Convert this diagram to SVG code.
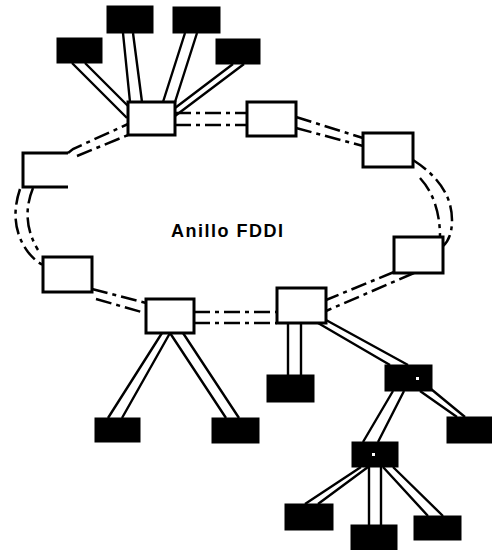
<svg xmlns="http://www.w3.org/2000/svg" width="492" height="550" viewBox="0 0 492 550">
<style>
.hub{fill:#fff;stroke:#000;stroke-width:3}
.st{fill:#000;stroke:#000;stroke-width:1}
.dot{fill:#fff}
.ring{fill:none;stroke:#000;stroke-width:2.5;stroke-dasharray:16 5 4 5}
.cab{fill:none;stroke:#000;stroke-width:2.4}
.lbl{font-family:"Liberation Sans",Arial,sans-serif;font-weight:bold;font-size:18px;fill:#000}
</style>
<rect width="492" height="550" fill="#fff"/>
<g id="connectors">
  <path class="ring" d="M175,113 H247 M175,125 H247"/>
  <path class="ring" d="M296,117 L363,138 M296,128 L363,146"/>
  <path class="ring" d="M413,160 Q452,185 452,220 Q452,238 443,246 M420,178 Q440,200 440,237"/>
  <path class="ring" d="M394,272 L326,300 M414,273 L326,311"/>
  <path class="ring" d="M194,312 H277 M194,323 H277"/>
  <path class="ring" d="M92,289 L146,303 M96,299 L145,313"/>
  <path class="ring" d="M20,189 Q8,225 28,252 Q36,262 43,265 M33,188 Q20,220 38,250"/>
  <path class="ring" d="M68,153 L73,149 L128,124 M77,156 L128,135"/>
  <path class="cab" d="M72,63 L127,118 M85,63 L130,108"/>
  <path class="cab" d="M123,33 L130,102 M133,33 L142,102"/>
  <path class="cab" d="M185,33 L163,102 M197,33 L175,102"/>
  <path class="cab" d="M233,64 L175,108 M244,64 L175,116"/>
  <path class="cab" d="M162,333 L108,418 M170,333 L122,418"/>
  <path class="cab" d="M170,333 L226,418 M183,333 L239,418"/>
  <path class="cab" d="M288,322 V375 M301,322 V375"/>
  <path class="cab" d="M318,323 L390,365 M326,320 L408,365"/>
  <path class="cab" d="M420,391 L457,417 M431,389 L465,417"/>
  <path class="cab" d="M393,391 L363,442 M404,391 L378,442"/>
  <path class="cab" d="M361,467 L305,504 M368,467 L318,504"/>
  <path class="cab" d="M369,467 V525 M381,467 V525"/>
  <path class="cab" d="M383,467 L428,516 M393,467 L443,516"/>
</g>
<g id="label"><text class="lbl" x="171" y="237" textLength="112" lengthAdjust="spacing">Anillo FDDI</text></g>
<g id="hub-top"><rect class="hub" x="128" y="102" width="47" height="33"/></g>
<g id="hub-2"><rect class="hub" x="247" y="102" width="49" height="34"/></g>
<g id="hub-3"><rect class="hub" x="363" y="133" width="50" height="34"/></g>
<g id="hub-4"><rect class="hub" x="394" y="237" width="49" height="36"/></g>
<g id="hub-bottom-right"><rect class="hub" x="277" y="288" width="49" height="35"/></g>
<g id="hub-bottom"><rect class="hub" x="146" y="299" width="48" height="34"/></g>
<g id="hub-left-low"><rect class="hub" x="43" y="257" width="49" height="35"/></g>
<g id="hub-left-open"><path class="hub" d="M68,153 H23 V187 H68" style="fill:none"/></g>
<g id="st-1"><rect class="st" x="57" y="38" width="45" height="25"/></g>
<g id="st-2"><rect class="st" x="107" y="6" width="46" height="27"/></g>
<g id="st-3"><rect class="st" x="173" y="7" width="47" height="26"/></g>
<g id="st-4"><rect class="st" x="216" y="39" width="44" height="25"/></g>
<g id="st-5"><rect class="st" x="95" y="418" width="45" height="24"/></g>
<g id="st-6"><rect class="st" x="212" y="418" width="47" height="25"/></g>
<g id="st-7"><rect class="st" x="267" y="375" width="47" height="27"/></g>
<g id="conc-1"><rect class="st" x="385" y="365" width="47" height="26"/><rect class="dot" x="416" y="377" width="3" height="3"/></g>
<g id="st-8"><rect class="st" x="447" y="417" width="45" height="26"/></g>
<g id="conc-2"><rect class="st" x="352" y="442" width="46" height="25"/><rect class="dot" x="372" y="453" width="3" height="3"/></g>
<g id="st-9"><rect class="st" x="285" y="504" width="48" height="26"/></g>
<g id="st-10"><rect class="st" x="351" y="525" width="46" height="25"/></g>
<g id="st-11"><rect class="st" x="414" y="516" width="47" height="24"/></g>
</svg>
